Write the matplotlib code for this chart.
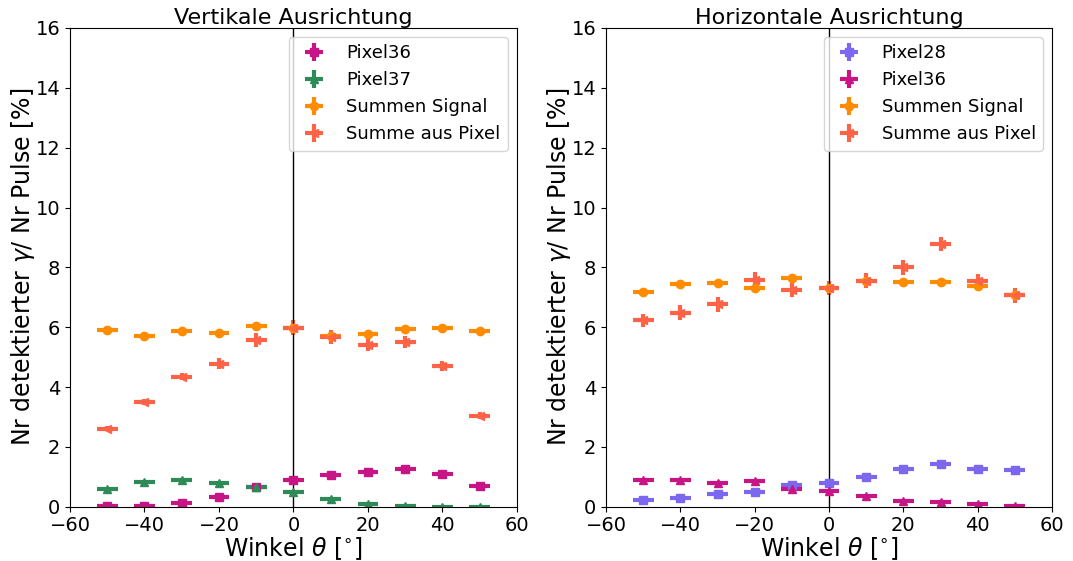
import matplotlib
matplotlib.use("Agg")
import matplotlib.pyplot as plt
import numpy as np

winkel = [-50, -40, -30, -20, -10, 0, 10, 20, 30, 40, 50]
winkel_err = 2.8

# Vertikale Ausrichtung
v_pixel36 = [0.02, 0.01, 0.13, 0.31, 0.65, 0.89, 1.06, 1.17, 1.27, 1.09, 0.70]
v_pixel37 = [0.58, 0.81, 0.88, 0.79, 0.65, 0.48, 0.26, 0.09, 0.01, 0.0, 0.0]
v_summen = [5.91, 5.72, 5.88, 5.82, 6.05, 5.97, 5.70, 5.77, 5.95, 5.96, 5.88]
v_summe_pixel = [2.61, 3.50, 4.34, 4.78, 5.58, 5.98, 5.67, 5.40, 5.49, 4.70, 3.04]
v_pixel36_err = [0.02, 0.02, 0.04, 0.05, 0.06, 0.07, 0.07, 0.08, 0.08, 0.07, 0.06]
v_pixel37_err = [0.05, 0.06, 0.07, 0.06, 0.06, 0.05, 0.04, 0.02, 0.01, 0.01, 0.01]
v_summen_err = [0.07, 0.07, 0.07, 0.07, 0.07, 0.08, 0.07, 0.07, 0.07, 0.07, 0.07]
v_summe_pixel_err = [0.08, 0.10, 0.12, 0.18, 0.24, 0.25, 0.22, 0.20, 0.20, 0.17, 0.12]

# Horizontale Ausrichtung
h_pixel28 = [0.22, 0.29, 0.41, 0.50, 0.72, 0.80, 1.00, 1.25, 1.42, 1.26, 1.22]
h_pixel36 = [0.89, 0.89, 0.78, 0.86, 0.59, 0.51, 0.36, 0.19, 0.16, 0.08, 0.03]
h_summen = [7.17, 7.45, 7.47, 7.31, 7.64, 7.32, 7.53, 7.50, 7.51, 7.37, 7.07]
h_summe_pixel = [6.23, 6.49, 6.77, 7.59, 7.25, 7.31, 7.56, 8.01, 8.78, 7.53, 7.06]
h_pixel28_err = [0.04, 0.05, 0.06, 0.06, 0.07, 0.07, 0.08, 0.08, 0.08, 0.08, 0.08]
h_pixel36_err = [0.07, 0.07, 0.07, 0.07, 0.06, 0.06, 0.05, 0.04, 0.04, 0.03, 0.02]
h_summen_err = [0.07, 0.07, 0.07, 0.07, 0.07, 0.07, 0.07, 0.07, 0.07, 0.07, 0.07]
h_summe_pixel_err = [0.22, 0.24, 0.25, 0.25, 0.25, 0.25, 0.25, 0.25, 0.25, 0.25, 0.25]

fig = plt.figure(figsize=(10.73, 5.61), dpi=100)
ax1 = fig.add_axes([0.0652, 0.0968, 0.4166, 0.8533])
ax2 = fig.add_axes([0.5648, 0.0968, 0.4157, 0.8533])

eb_kw = dict(linestyle="none", elinewidth=3, markersize=6, capsize=0)


def panel(ax, title, series):
    for y, yerr, marker, color, label in series:
        ax.errorbar(winkel, y, xerr=winkel_err, yerr=yerr, marker=marker,
                    color=color, label=label, **eb_kw)
    ax.axvline(0, color="black", linewidth=1)
    ax.set_xlim(-60, 60)
    ax.set_ylim(0, 16)
    ax.set_xticks(np.arange(-60, 61, 20))
    ax.set_yticks(np.arange(0, 17, 2))
    ax.tick_params(labelsize=14)
    ax.set_title(title, fontsize=16, pad=3)
    ax.set_xlabel(r"Winkel $\theta$ [$^{\circ}$]", fontsize=17, labelpad=0)
    ax.set_ylabel(r"Nr detektierter $\gamma$/ Nr Pulse [%]", fontsize=17)
    ax.yaxis.set_label_coords(-0.073, 0.5)
    ax.legend(loc="upper right", fontsize=13)


panel(ax1, "Vertikale Ausrichtung", [
    (v_pixel36, v_pixel36_err, "s", "mediumvioletred", "Pixel36"),
    (v_pixel37, v_pixel37_err, "^", "seagreen", "Pixel37"),
    (v_summen, v_summen_err, "o", "darkorange", "Summen Signal"),
    (v_summe_pixel, v_summe_pixel_err, "<", "tomato", "Summe aus Pixel"),
])

panel(ax2, "Horizontale Ausrichtung", [
    (h_pixel28, h_pixel28_err, "s", "mediumslateblue", "Pixel28"),
    (h_pixel36, h_pixel36_err, "^", "mediumvioletred", "Pixel36"),
    (h_summen, h_summen_err, "o", "darkorange", "Summen Signal"),
    (h_summe_pixel, h_summe_pixel_err, "<", "tomato", "Summe aus Pixel"),
])

fig.savefig("out.png", dpi=100)
